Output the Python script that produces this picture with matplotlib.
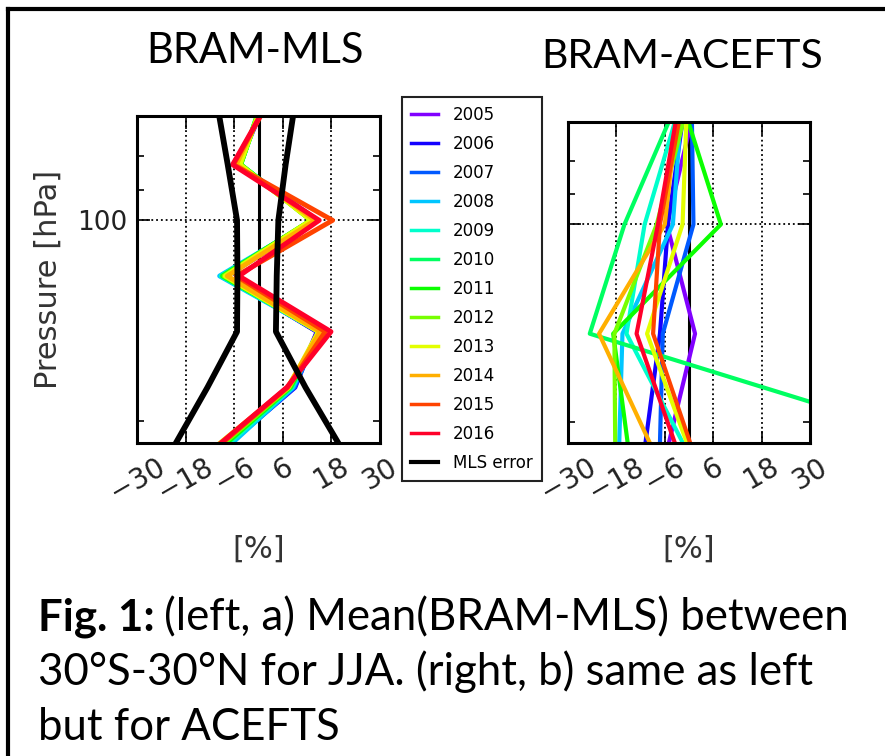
"""BRAM minus MLS / ACE-FTS mean differences, 30S-30N, JJA (poster panel)."""

import matplotlib

matplotlib.use("Agg")
import matplotlib.pyplot as plt
import numpy as np
from matplotlib.lines import Line2D

YEARS = ["2005", "2006", "2007", "2008", "2009", "2010",
         "2011", "2012", "2013", "2014", "2015", "2016"]

# MLS pressure grid (hPa) used for panel a
LEV_MLS = [68.13, 82.54, 100.0, 121.15, 146.78, 177.83, 215.44]
# mean(BRAM-MLS) [%], one row per year
DIFF_MLS = [
    [1.0, -5.0, 14.6, -8.0, 14.5, 8.5, -7.5],
    [0.8, -5.0, 14.0, -8.5, 14.5, 9.0, -7.0],
    [0.6, -4.8, 13.8, -8.8, 14.8, 8.8, -7.0],
    [0.4, -4.5, 13.5, -9.6, 15.0, 8.5, -6.5],
    [0.4, -4.5, 13.5, -9.2, 15.2, 8.2, -7.2],
    [0.2, -4.4, 13.2, -9.0, 15.4, 8.0, -7.8],
    [0.3, -4.4, 13.0, -8.8, 15.4, 7.8, -8.0],
    [0.3, -4.5, 13.0, -8.5, 15.0, 7.6, -8.5],
    [0.5, -4.6, 13.0, -8.2, 14.8, 7.4, -9.5],
    [1.0, -5.5, 14.0, -7.7, 15.2, 7.2, -9.2],
    [1.5, -6.2, 18.3, -5.5, 16.5, 7.2, -9.0],
    [1.4, -6.4, 15.0, -4.8, 17.9, 7.0, -9.3],
]
MLS_ERR_LO = [-10.0, -7.6, -5.3, -5.2, -5.3, -12.6, -20.4]
MLS_ERR_HI = [8.8, 6.7, 4.9, 4.5, 4.3, 11.6, 19.7]

# ACE-FTS comparison levels (hPa) for panel b
LEV_ACE = [68.13, 100.0, 146.78, 215.44]
DIFF_ACE = [
    [1.0, -5.5, 1.5, -5.0],
    [-1.4, -5.2, -7.2, -10.8],
    [0.7, 1.1, -6.5, -7.2],
    [-2.0, -4.0, -16.5, -17.3],
    [-3.0, -11.0, -15.5, -1.5],
    [-4.3, -16.0, -24.6, 63.0],
    [-0.7, 7.9, -18.8, -15.2],
    [-1.0, -8.0, -18.5, -18.3],
    [-0.6, -1.6, -10.4, -0.5],
    [-3.0, -6.0, -22.3, -9.7],
    [-2.2, -7.2, -8.9, 0.3],
    [-3.0, -7.7, -13.0, -3.5],
]

XTICKS = [-30, -18, -6, 6, 18, 30]

W, H = 885, 756
colors = plt.cm.gist_rainbow(np.linspace(0.862, 0.0, len(YEARS)))

fig = plt.figure(figsize=(W / 100, H / 100), dpi=100)


def px_axes(x0, y0, x1, y1):
    return fig.add_axes([x0 / W, 1 - y1 / H, (x1 - x0) / W, (y1 - y0) / H])


def style(ax, ylabels):
    ax.set_yscale("log")
    ax.set_ylim(215.44, 69.8)
    ax.set_xlim(-30, 30)
    ax.set_xticks(XTICKS)
    ax.set_xticklabels([str(v).replace("-", "\u2212") for v in XTICKS],
                       rotation=30, fontsize=20)
    ax.set_yticks([100])
    ax.set_yticks([70, 80, 90, 200], minor=True)
    ax.set_yticklabels(["100"] if ylabels else [""], fontsize=19)
    ax.set_yticklabels([], minor=True)
    ax.tick_params(which="both", direction="in", top=True, right=True,
                   colors="k", labelcolor="#222222")
    ax.tick_params(which="major", length=9, width=1.2, pad=7)
    ax.tick_params(which="minor", length=5, width=1.2)
    ax.grid(True, which="major", ls=":", color="k", lw=1.3)
    for sp in ax.spines.values():
        sp.set_linewidth(2.2)
    ax.set_xlabel("[%]", fontsize=22, color="#333333")
    ax.axvline(0, color="k", lw=2.2, zorder=1.5)


# panel a: BRAM - MLS
ax1 = px_axes(137, 116, 380, 443)
for yr, c, d in zip(YEARS, colors, DIFF_MLS):
    ax1.plot(d, LEV_MLS, color=c, lw=3.5, label=yr)
ax1.plot(MLS_ERR_LO, LEV_MLS, color="k", lw=4.2)
ax1.plot(MLS_ERR_HI, LEV_MLS, color="k", lw=4.2)
style(ax1, True)
ax1.set_ylabel("Pressure [hPa]", fontsize=22, color="#333333")
ax1.yaxis.set_label_coords(-0.305, 0.5)
ax1.xaxis.set_label_coords(0.5, -0.28)

# panel b: BRAM - ACE-FTS
ax2 = px_axes(568, 122, 810, 443)
for yr, c, d in zip(YEARS, colors, DIFF_ACE):
    ax2.plot(d, LEV_ACE, color=c, lw=3)
style(ax2, False)
ax2.xaxis.set_label_coords(0.5, -0.285)

handles = [Line2D([], [], color=c, lw=2.5) for c in colors]
handles.append(Line2D([], [], color="k", lw=3))
leg = fig.legend(handles, YEARS + ["MLS error"], loc="upper left",
                 bbox_to_anchor=(402 / W, 1 - 97 / H), borderaxespad=0,
                 fontsize=12, labelspacing=0.66, handlelength=1.6,
                 handletextpad=0.9, borderpad=0.55, fancybox=False,
                 framealpha=1)
leg.get_frame().set_edgecolor("#222222")
leg.get_frame().set_linewidth(1.5)

# panel titles and caption (PowerPoint text in the original)
TF = "Lato"
fig.text(255 / W, 1 - 63 / H, "BRAM-MLS", ha="center", va="baseline",
         fontsize=30, family=TF)
fig.text(682 / W, 1 - 68 / H, "BRAM-ACEFTS", ha="center", va="baseline",
         fontsize=29.5, family=TF)

CAP = 31.5
cap_x = 38 / W
bold = fig.text(cap_x, 1 - 630 / H, "Fig. 1:", fontsize=CAP, family=TF,
                weight="bold", va="baseline")
fig.canvas.draw()
bb = bold.get_window_extent(fig.canvas.get_renderer())
fig.text(bb.x1 / W + 9 / W, 1 - 630 / H, "(left, a) Mean(BRAM-MLS) between",
         fontsize=CAP, family=TF, va="baseline")
fig.text(cap_x, 1 - 685 / H, "30°S-30°N for JJA. (right, b) same as left",
         fontsize=CAP, family=TF, va="baseline")
fig.text(cap_x, 1 - 740 / H, "but for ACEFTS", fontsize=CAP, family=TF,
         va="baseline")

# frame lines along the top and left edges of the slide crop
fig.add_artist(Line2D([8 / W, 1], [1 - 9 / H, 1 - 9 / H], color="k", lw=3))
fig.add_artist(Line2D([8 / W, 8 / W], [0, 1 - 9 / H], color="k", lw=3))

fig.savefig("out.png", dpi=100)
